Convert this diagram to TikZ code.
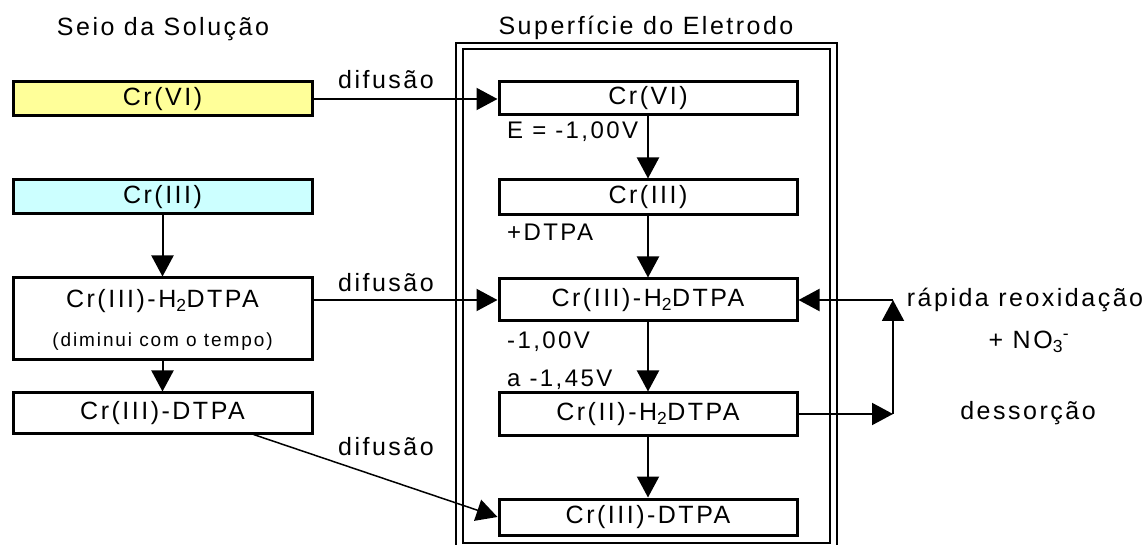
\documentclass[tikz,border=0pt]{standalone}
\usepackage{fontspec}
\setmainfont{Liberation Sans}[LetterSpace=10]
\usetikzlibrary{arrows.meta}
\definecolor{yel}{HTML}{FFFF99}
\definecolor{cya}{HTML}{CCFFFF}
\begin{document}
\begin{tikzpicture}[x=1pt,y=-1pt,
  box/.style={draw, line width=3pt, minimum width=299pt, inner sep=0pt, font=\fontsize{25pt}{30pt}\selectfont},
  ttl/.style={inner sep=0pt, font=\fontsize{25pt}{30pt}\selectfont},
  lbl/.style={inner sep=0pt, font=\fontsize{25pt}{30pt}\selectfont},
  vlbl/.style={inner sep=0pt, anchor=west, font=\fontsize{24pt}{28pt}\selectfont},
  arr/.style={line width=2pt, -{Triangle[length=21pt,width=22pt]}},
  thinarr/.style={line width=1.5pt, -{Triangle[length=21pt,width=22pt]}},
  frameline/.style={line width=2.2pt}]
\useasboundingbox (0,0) rectangle (1144,545);
% frame
\draw[frameline] (456,550) -- (456,43) -- (837,43) -- (837,550);
\draw[frameline] (463,543) rectangle (830,49);
% titles
\node[ttl] (t1) at (163,29) {Seio da Solução};
\node[ttl] (t2) at (646,28) {Superfície do Eletrodo};
% left column
\node[box, fill=yel, minimum height=34pt] (L1) at (162.5,99) {Cr(VI)};
\node[box, fill=cya, minimum height=34pt] (L2) at (162.5,197) {Cr(III)};
\node[box, minimum height=82pt] (L3) at (162.5,319) {};
\node[ttl] (L3t) at (162.5,301) {Cr(III)-H\textsubscript{2}DTPA};
\node[inner sep=0pt, font=\fontsize{19pt}{23pt}\selectfont] (L3s) at (162.5,342) {(diminui com o tempo)};
\node[box, minimum height=40pt] (L4) at (162.5,413) {Cr(III)-DTPA};
% right column
\node[box, minimum height=33pt, minimum width=298pt] (R1) at (648,98.5) {Cr(VI)};
\node[box, minimum height=35pt, minimum width=298pt] (R2) at (648,197.5) {Cr(III)};
\node[box, minimum height=42pt, minimum width=298pt] (R3) at (648,300) {Cr(III)-H\textsubscript{2}DTPA};
\node[box, minimum height=42pt, minimum width=298pt] (R4) at (648,414) {Cr(II)-H\textsubscript{2}DTPA};
\node[box, minimum height=36pt, minimum width=298pt] (R5) at (648,517) {Cr(III)-DTPA};
% labels
\node[lbl] (d1) at (386,80) {difusão};
\node[lbl] (d2) at (386,283) {difusão};
\node[lbl] (d3) at (386,447) {difusão};
\node[vlbl] (v1) at (507,132) {E = -1,00V};
\node[vlbl] (v2) at (507,232) {+DTPA};
\node[vlbl] (v3) at (507,342) {-1,00V};
\node[vlbl] (v4) at (507,380) {a -1,45V};
\node[lbl] (r1) at (1025,300) {rápida reoxidação};
\node[lbl] (r2) at (1029,342) {+ NO\textsubscript{3}\textsuperscript{-}};
\node[lbl] (r3) at (1028,413) {dessorção};
% arrows left
\draw[arr] (L2.south) -- (L3.north);
\draw[arr] (L3.south) -- (L4.north);
% diffusion arrows
\draw[arr] (L1.east) -- (L1.east -| R1.west);
\draw[arr] (L3.east |- R3.west) -- (R3.west);
\draw[thinarr] ([xshift=91pt]L4.south) -- (R5.west);
% right column arrows
\draw[arr] (R1.south) -- (R2.north);
\draw[arr] (R2.south) -- (R3.north);
\draw[arr] (R3.south) -- (R4.north);
\draw[arr] (R4.south) -- (R5.north);
% loop
\coordinate (cB) at (893,414);
\coordinate (cT) at (893,300);
\draw[arr] (R4.east) -- (cB);
\draw[arr] (cB) -- (cT);
\draw[arr] (cT) -- (R3.east);
\end{tikzpicture}
\end{document}
